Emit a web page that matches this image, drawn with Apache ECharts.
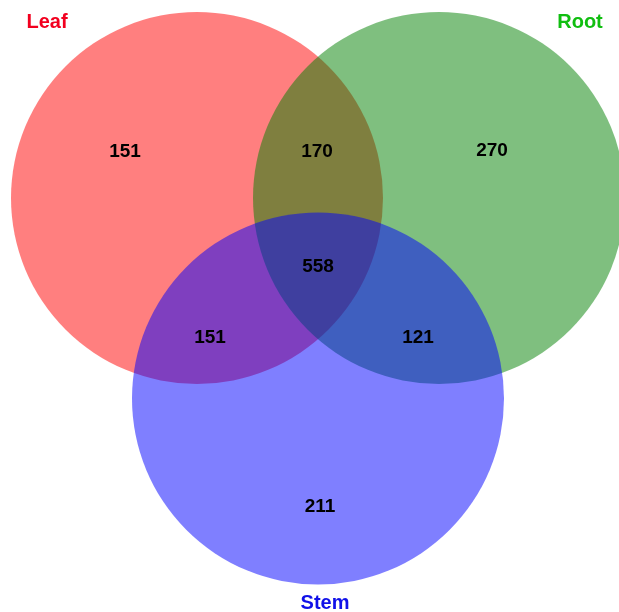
<!DOCTYPE html>
<html>
<head>
<meta charset="utf-8">
<script src="https://cdn.jsdelivr.net/npm/echarts@6/dist/echarts.min.js"></script>
<style>html,body{margin:0;padding:0;background:#fff}#c{width:619px;height:612px}</style>
</head>
<body>
<div id="c"></div>
<script>
// Data
var setNames = ['Leaf', 'Root', 'Stem'];
var regionNames = ['Leaf only', 'Leaf∩Root', 'Root only', 'All', 'Leaf∩Stem', 'Root∩Stem', 'Stem only'];
var regionCounts = [151, 170, 270, 558, 151, 121, 211];

// Layout (geometry in pixel-like units of hidden axes)
var circleLayout = [[197, 198], [439, 198], [318, 398.5]];
var circleRadius = 186;
var circleColors = ['rgba(255,0,0,0.5)', 'rgba(0,128,0,0.5)', 'rgba(0,0,255,0.5)'];
var setLabelColors = ['#F2001F', '#10BE10', '#1010E8'];
var setLabelPos = [[47, 22], [580, 22], [325, 603]];
var regionLabelPos = [[125, 152], [317, 152], [492, 151], [318, 267], [210, 338], [418, 338], [320, 507]];

var chart = echarts.init(document.getElementById('c'), null, {renderer: 'canvas'});
var circleData = setNames.map(function (n, i) {
  return {name: n, value: [circleLayout[i][0], circleLayout[i][1], circleRadius]};
});
var option = {
  animation: false,
  grid: {left: 0, right: 0, top: 0, bottom: 0},
  xAxis: {type: 'value', min: 0, max: 619, show: false},
  yAxis: {type: 'value', min: 0, max: 612, inverse: true, show: false},
  series: [
    {
      type: 'custom',
      coordinateSystem: 'cartesian2d',
      data: circleData,
      renderItem: function (params, api) {
        var c = api.coord([api.value(0), api.value(1)]);
        var r = api.size([api.value(2), 0])[0];
        return {
          type: 'circle',
          shape: {cx: c[0], cy: c[1], r: r},
          style: {fill: circleColors[params.dataIndex]}
        };
      },
      silent: true
    },
    {
      type: 'scatter',
      symbolSize: 0,
      silent: true,
      itemStyle: {opacity: 1},
      data: regionCounts.map(function (v, i) {
        return {name: regionNames[i], value: [regionLabelPos[i][0], regionLabelPos[i][1], v]};
      }),
      label: {
        show: true, position: 'inside', opacity: 1,
        formatter: function (p) { return String(p.value[2]); },
        color: '#000', fontSize: 19, fontWeight: 'bold', fontFamily: 'Liberation Sans, Arial, sans-serif',
        textBorderWidth: 0
      }
    },
    {
      type: 'scatter',
      symbolSize: 0,
      silent: true,
      itemStyle: {opacity: 1},
      data: setNames.map(function (n, i) {
        return {name: n, value: setLabelPos[i], label: {color: setLabelColors[i]}};
      }),
      label: {
        show: true, position: 'inside', opacity: 1,
        formatter: '{b}',
        fontSize: 20, fontWeight: 'bold', fontFamily: 'Liberation Sans, Arial, sans-serif',
        textBorderWidth: 0
      }
    }
  ]
};
chart.setOption(option);
</script>
</body>
</html>
